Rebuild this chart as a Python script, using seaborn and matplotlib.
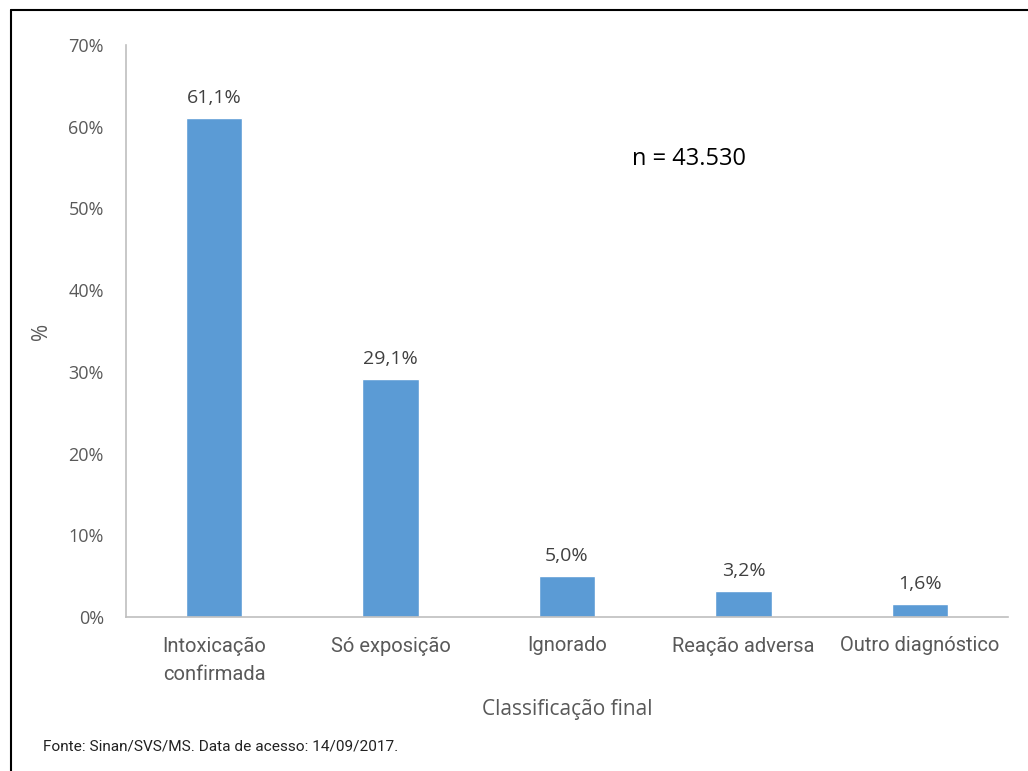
import matplotlib
matplotlib.use("Agg")
import matplotlib.pyplot as plt
import seaborn as sns
import pandas as pd

categories = ["Intoxicação\nconfirmada", "Só exposição", "Ignorado", "Reação adversa", "Outro diagnóstico"]
values = [61.1, 29.1, 5.0, 3.2, 1.6]
value_labels = ["61,1%", "29,1%", "5,0%", "3,2%", "1,6%"]
y_ticks = [0, 10, 20, 30, 40, 50, 60, 70]
y_tick_labels = ["0%", "10%", "20%", "30%", "40%", "50%", "60%", "70%"]

sns.set_theme(style="white")
plt.rcParams["font.family"] = ["Open Sans", "DejaVu Sans"]

df = pd.DataFrame({"cat": categories, "val": values})

fig = plt.figure(figsize=(10.28, 7.71), dpi=100)
ax = fig.add_axes([0.1226, 0.1997, 0.858, 0.7419])

sns.barplot(data=df, x="cat", y="val", color="#5B9BD5", width=0.32,
            saturation=1, ax=ax)

ax.set_xlim(-0.5, 4.5)
ax.set_ylim(0, 70)
ax.set_yticks(y_ticks)
ax.set_yticklabels(y_tick_labels, color="#595959", fontsize=13)
ax.tick_params(axis="x", length=0, pad=14)
ax.tick_params(axis="y", length=0, pad=16)
for lbl in ax.get_xticklabels():
    lbl.set_color("#595959")
    lbl.set_fontsize(14.5)
    lbl.set_family(["Roboto", "DejaVu Sans"])
    lbl.set_linespacing(1.6)

for s in ["top", "right"]:
    ax.spines[s].set_visible(False)
for s in ["left", "bottom"]:
    ax.spines[s].set_color("#BFBFBF")
    ax.spines[s].set_linewidth(1.2)

for i, (v, t) in enumerate(zip(values, value_labels)):
    ax.annotate(t, (i, v), xytext=(0, 8), textcoords="offset points",
                ha="center", va="bottom", fontsize=14, color="#404040")

ax.set_xlabel("Classificação final", fontsize=15, color="#595959", labelpad=11)
ax.set_ylabel("%", fontsize=15, color="#595959")
ax.yaxis.set_label_coords(-0.084, 0.5)

ax.text(0.638, 0.8, "n = 43.530", transform=ax.transAxes, ha="center",
        va="center", fontsize=17, color="#000000")

fig.text(0.042, 0.032, "Fonte: Sinan/SVS/MS. Data de acesso: 14/09/2017.",
         fontsize=11.1, color="#222222", ha="left", va="center",
         family=["Roboto", "DejaVu Sans"])

# outer frame (top and left edges)
fig.add_artist(plt.Line2D([0.011, 1.0], [0.9865, 0.9865], transform=fig.transFigure,
                          color="black", linewidth=1.5))
fig.add_artist(plt.Line2D([0.011, 0.011], [0.0, 0.9865], transform=fig.transFigure,
                          color="black", linewidth=1.5))

fig.savefig("out.png", dpi=100, facecolor="white")
